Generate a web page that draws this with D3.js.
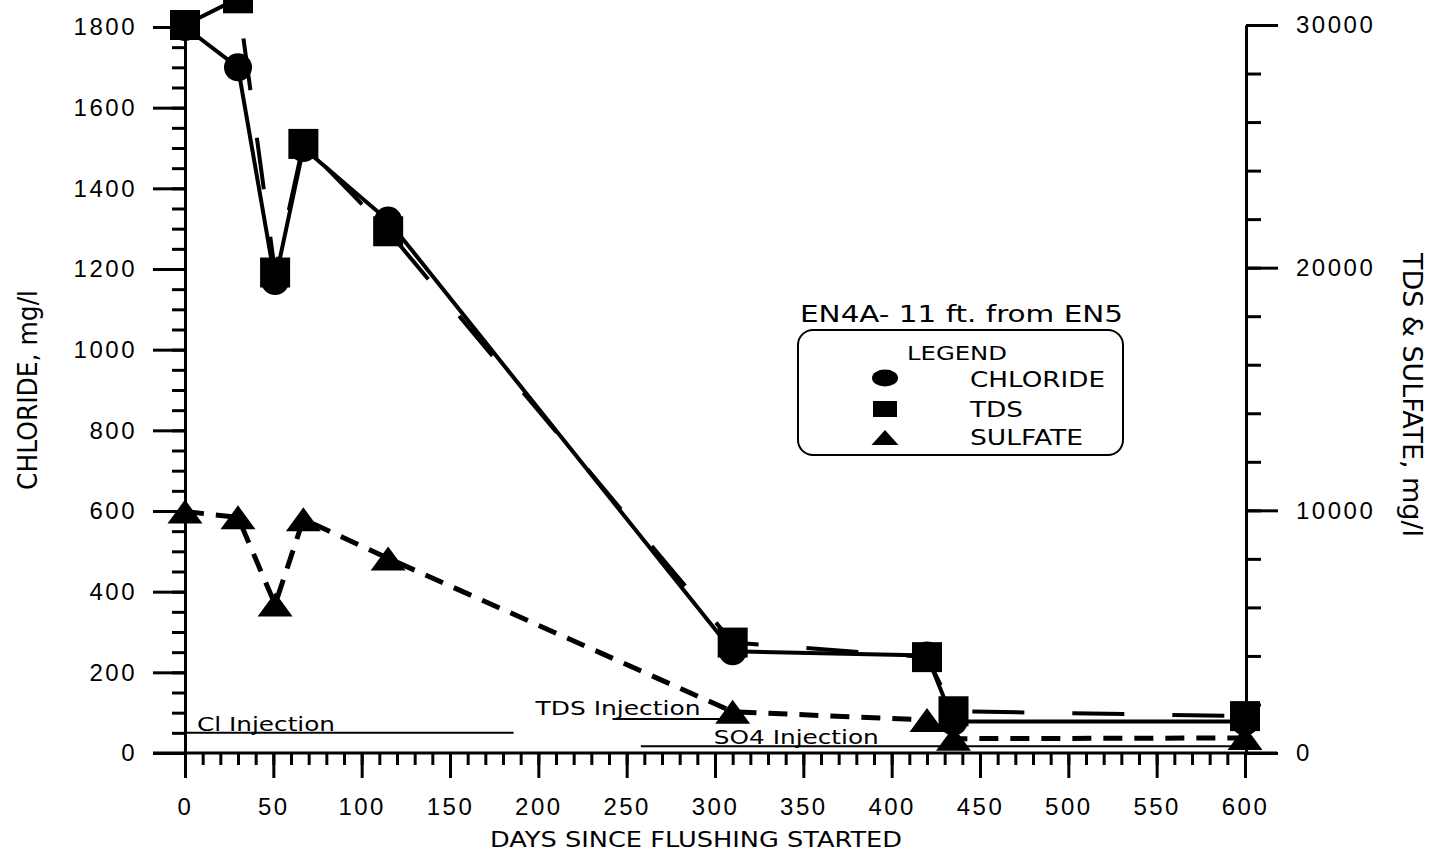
<!DOCTYPE html>
<html>
<head>
<meta charset="utf-8">
<script src="https://cdn.jsdelivr.net/npm/d3@7"></script>
<style>
  body { margin: 0; background: #fff; }
  svg { display: block; font-family: "DejaVu Sans", sans-serif; }
  .tick text { font-size: 24px; letter-spacing: 2.5px; fill: #000; }
  .tick line, .domain { stroke: #000; stroke-width: 3; }
  .label { fill: #000; }
</style>
</head>
<body>
<svg id="chart" width="1431" height="852"></svg>
<script>
// sampling days and measured concentrations
const days     = [0, 30, 51, 67, 115, 310, 420, 435, 600];
const chloride = [1800, 1700, 1170, 1500, 1320, 252, 242, 78, 78];      // mg/l, left axis
const tds      = [30000, 31100, 19800, 25100, 21500, 4550, 3950, 1720, 1520]; // mg/l, right axis
const sulfate  = [9950, 9710, 6120, 9630, 8020, 1700, 1360, 590, 620];   // mg/l, right axis

// axis ticks
const xTicks = [0, 50, 100, 150, 200, 250, 300, 350, 400, 450, 500, 550, 600];
const leftTicks = [0, 200, 400, 600, 800, 1000, 1200, 1400, 1600, 1800];
const rightTicks = [0, 10000, 20000, 30000];

// injection periods (days) drawn at a chloride-axis level
const injLabels = ["Cl Injection", "TDS Injection", "SO4 Injection"];
const injStart  = [0, 242, 258];
const injEnd    = [186, 308, 600];
const injLevel  = [50, 84, 17];

const svg = d3.select("#chart");

const x = d3.scaleLinear().domain([0, 600]).range([185, 1245]);
const yL = d3.scaleLinear().domain([0, 1800]).range([753, 27]);
const yR = d3.scaleLinear().domain([0, 30000]).range([753, 25]);
const fmt = d3.format("d");

// x axis base line runs past both vertical axes
svg.append("line")
    .attr("x1", x(0) - 32).attr("x2", x(600) + 32)
    .attr("y1", yL(0)).attr("y2", yL(0))
    .attr("stroke", "#000").attr("stroke-width", 3);

// bottom axis
svg.append("g")
    .attr("transform", `translate(0,${yL(0)})`)
    .call(d3.axisBottom(x).tickValues(d3.range(0, 601, 10)).tickSize(12).tickFormat(""))
    .call(g => g.select(".domain").remove());
svg.append("g")
    .attr("transform", `translate(0,${yL(0)})`)
    .call(d3.axisBottom(x).tickValues(xTicks).tickSize(25).tickPadding(20).tickFormat(fmt))
    .call(g => g.select(".domain").remove());

// left axis
svg.append("g")
    .attr("transform", `translate(${x(0)},0)`)
    .call(d3.axisLeft(yL).tickValues(d3.range(0, 1801, 50)).tickSize(13).tickFormat(""))
    .call(g => g.select(".domain").remove());
svg.append("g")
    .attr("transform", `translate(${x(0)},0)`)
    .call(d3.axisLeft(yL).tickValues(leftTicks).tickSize(32).tickPadding(16).tickSizeOuter(0).tickFormat(fmt));

// right axis
const rx = x(600) + 1;
svg.append("g")
    .attr("transform", `translate(${rx},0)`)
    .call(d3.axisRight(yR).tickValues(d3.range(0, 30001, 2000)).tickSize(15).tickFormat(""))
    .call(g => g.select(".domain").remove());
svg.append("g")
    .attr("transform", `translate(${rx},0)`)
    .call(d3.axisRight(yR).tickValues(rightTicks).tickSize(32).tickPadding(18).tickSizeOuter(0).tickFormat(fmt));

// axis titles
svg.append("text").attr("class", "label")
    .attr("transform", "translate(37,390) rotate(-90)")
    .attr("text-anchor", "middle")
    .attr("font-size", 26)
    .attr("textLength", 200).attr("lengthAdjust", "spacingAndGlyphs")
    .text("CHLORIDE, mg/l");

svg.append("text").attr("class", "label")
    .attr("transform", "translate(1403,395) rotate(90)")
    .attr("text-anchor", "middle")
    .attr("font-size", 27)
    .attr("textLength", 284).attr("lengthAdjust", "spacingAndGlyphs")
    .text("TDS & SULFATE, mg/l");

svg.append("text").attr("class", "label")
    .attr("x", 490).attr("y", 847)
    .attr("font-size", 22)
    .attr("textLength", 412).attr("lengthAdjust", "spacingAndGlyphs")
    .text("DAYS SINCE FLUSHING STARTED");

// injection periods
const injDx = [12, -77, 73];
const injDy = [-2, -4, -2];
injLabels.forEach((lab, i) => {
    svg.append("line")
        .attr("x1", x(injStart[i])).attr("x2", x(injEnd[i]))
        .attr("y1", yL(injLevel[i])).attr("y2", yL(injLevel[i]))
        .attr("stroke", "#000").attr("stroke-width", 2);
    svg.append("text").attr("class", "label")
        .attr("x", x(injStart[i]) + injDx[i])
        .attr("y", yL(injLevel[i]) + injDy[i])
        .attr("font-size", 20)
        .attr("textLength", [138, 165, 165][i]).attr("lengthAdjust", "spacingAndGlyphs")
        .text(lab);
});

// series lines
const chlPts = days.map((d, i) => [x(d), yL(chloride[i])]);
const tdsPts = days.map((d, i) => [x(d), yR(tds[i])]);
const sulPts = days.map((d, i) => [x(d), yR(sulfate[i])]);

const line = d3.line();

svg.append("path")
    .attr("d", line(sulPts))
    .attr("fill", "none").attr("stroke", "#000")
    .attr("stroke-width", 5).attr("stroke-dasharray", "19,12");

svg.append("path")
    .attr("d", line(chlPts))
    .attr("fill", "none").attr("stroke", "#000")
    .attr("stroke-width", 4);

svg.append("path")
    .attr("d", line(tdsPts))
    .attr("fill", "none").attr("stroke", "#000")
    .attr("stroke-width", 4).attr("stroke-dasharray", "52,48");

// markers
const tri = (cx, cy, w, h) => `M${cx - w / 2},${cy + h / 2}L${cx},${cy - h / 2}L${cx + w / 2},${cy + h / 2}Z`;

svg.selectAll(".sul")
    .data(sulPts)
    .enter()
    .append("path")
    .attr("class", "sul")
    .attr("d", p => tri(p[0], p[1], 35, 24))
    .attr("fill", "#000");

svg.selectAll(".chl")
    .data(chlPts)
    .enter()
    .append("circle")
    .attr("class", "chl")
    .attr("cx", p => p[0]).attr("cy", p => p[1])
    .attr("r", 14)
    .attr("fill", "#000");

svg.selectAll(".tds")
    .data(tdsPts)
    .enter()
    .append("rect")
    .attr("class", "tds")
    .attr("x", p => p[0] - 15).attr("y", p => p[1] - 15)
    .attr("width", 30).attr("height", 30)
    .attr("fill", "#000");

// legend
svg.append("text").attr("class", "label")
    .attr("x", 800).attr("y", 322)
    .attr("font-size", 23)
    .attr("textLength", 323).attr("lengthAdjust", "spacingAndGlyphs")
    .text("EN4A- 11 ft. from EN5");

svg.append("rect")
    .attr("x", 798).attr("y", 330)
    .attr("width", 325).attr("height", 125)
    .attr("rx", 15)
    .attr("fill", "none").attr("stroke", "#000").attr("stroke-width", 2);

svg.append("text").attr("class", "label")
    .attr("x", 907).attr("y", 360)
    .attr("font-size", 20)
    .attr("textLength", 100).attr("lengthAdjust", "spacingAndGlyphs")
    .text("LEGEND");

svg.append("ellipse")
    .attr("cx", 885).attr("cy", 378).attr("rx", 13).attr("ry", 8.5)
    .attr("fill", "#000");
svg.append("rect")
    .attr("x", 873).attr("y", 401).attr("width", 24).attr("height", 16)
    .attr("fill", "#000");
svg.append("path")
    .attr("d", tri(885, 437.5, 27, 15))
    .attr("fill", "#000");

const legNames = ["CHLORIDE", "TDS", "SULFATE"];
const legLen = [135, 53, 113];
const legBase = [387, 417, 445];
legNames.forEach((n, i) => {
    svg.append("text").attr("class", "label")
        .attr("x", 970).attr("y", legBase[i])
        .attr("font-size", 21)
        .attr("textLength", legLen[i]).attr("lengthAdjust", "spacingAndGlyphs")
        .text(n);
});
</script>
</body>
</html>
